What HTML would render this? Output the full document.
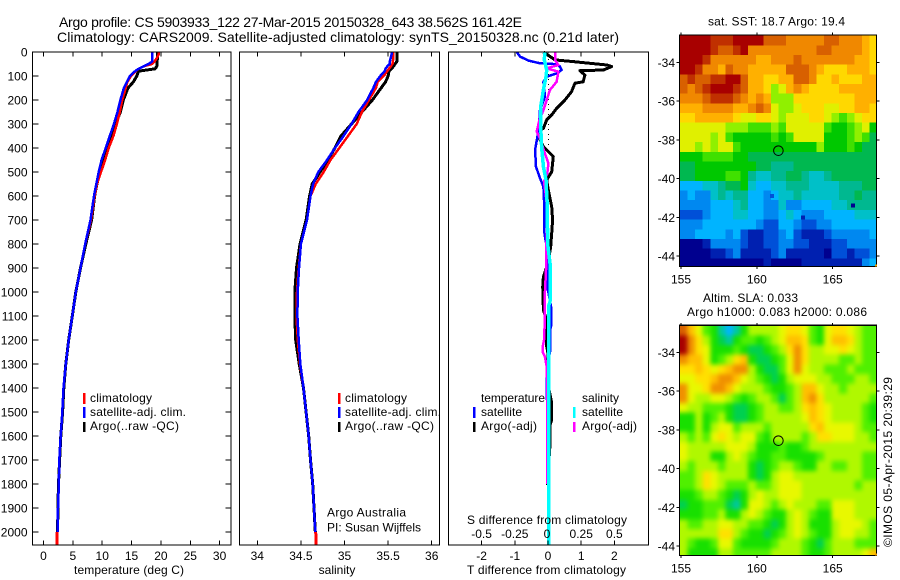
<!DOCTYPE html>
<html lang="en">
<head>
<meta charset="utf-8">
<title>Argo profile 5903933_122</title>
<style>
html,body{margin:0;padding:0;background:#fff;width:900px;height:580px;overflow:hidden}
svg{display:block;font-family:"Liberation Sans",sans-serif;font-size:12px;fill:#000}
svg text{stroke:none}
.title{font-size:14px}
</style>
</head>
<body>
<svg id="chart" xmlns="http://www.w3.org/2000/svg" width="900" height="580" viewBox="0 0 900 580">
  <defs>
    <clipPath id="clip-sst"><rect x="680" y="35" width="197" height="232"/></clipPath>
    <clipPath id="clip-sla"><rect x="680" y="325" width="197" height="231"/></clipPath>
    <filter id="smooth" x="-5%" y="-5%" width="110%" height="110%" color-interpolation-filters="sRGB"><feGaussianBlur stdDeviation="2.4"/></filter>
  </defs>
  <rect x="0" y="0" width="900" height="580" fill="#fff"/>
  <text class="title" x="59" y="27" textLength="463" lengthAdjust="spacing">Argo profile: CS 5903933_122 27-Mar-2015 20150328_643 38.562S 161.42E</text>
  <text class="title" x="57" y="42" textLength="562" lengthAdjust="spacing">Climatology: CARS2009. Satellite-adjusted climatology: synTS_20150328.nc (0.21d later)</text>

  <g id="p1"></g>
  <g id="p2"></g>
  <g id="p3"></g>
  <g id="m1"></g>
  <g id="m2"></g>

  <text x="74" y="574" textLength="110" lengthAdjust="spacing">temperature (deg C)</text>
  <text x="337" y="574" text-anchor="middle">salinity</text>
  <text x="467" y="574" textLength="159" lengthAdjust="spacing">T difference from climatology</text>
  <text x="467" y="524" textLength="160" lengthAdjust="spacing">S difference from climatology</text>

  <text x="90" y="402" textLength="62" lengthAdjust="spacing">climatology</text>
  <text x="90" y="416" textLength="96" lengthAdjust="spacing">satellite-adj. clim.</text>
  <text x="90" y="430" textLength="89" lengthAdjust="spacing">Argo(..raw -QC)</text>
  <rect x="83" y="393" width="2.5" height="11" fill="#f00"/>
  <rect x="83" y="407" width="2.5" height="11" fill="#00f"/>
  <rect x="83" y="422" width="2.5" height="10" fill="#000"/>

  <text x="345" y="402" textLength="62" lengthAdjust="spacing">climatology</text>
  <text x="345" y="416" textLength="96" lengthAdjust="spacing">satellite-adj. clim.</text>
  <text x="345" y="430" textLength="89" lengthAdjust="spacing">Argo(..raw -QC)</text>
  <rect x="338" y="393" width="2.5" height="11" fill="#f00"/>
  <rect x="338" y="407" width="2.5" height="11" fill="#00f"/>
  <rect x="338" y="422" width="2.5" height="10" fill="#000"/>

  <text x="327" y="516.5" textLength="79" lengthAdjust="spacing">Argo Australia</text>
  <text x="327" y="531.5" textLength="94" lengthAdjust="spacing">PI: Susan Wijffels</text>

  <text x="481" y="402" textLength="64" lengthAdjust="spacing">temperature</text>
  <text x="481" y="416" textLength="41" lengthAdjust="spacing">satellite</text>
  <text x="481" y="430" textLength="56" lengthAdjust="spacing">Argo(-adj)</text>
  <text x="582" y="402" textLength="37" lengthAdjust="spacing">salinity</text>
  <text x="582" y="416" textLength="41" lengthAdjust="spacing">satellite</text>
  <text x="582" y="430" textLength="55" lengthAdjust="spacing">Argo(-adj)</text>
  <rect x="473" y="407" width="2.5" height="11" fill="#00f"/>
  <rect x="473" y="422" width="2.5" height="10" fill="#000"/>
  <rect x="573" y="407" width="2.5" height="11" fill="#0ff"/>
  <rect x="573" y="422" width="2.5" height="10" fill="#f0f"/>

  <text x="708" y="25.5" textLength="137" lengthAdjust="spacing">sat. SST: 18.7 Argo: 19.4</text>
  <text x="703" y="302" textLength="95" lengthAdjust="spacing">Altim. SLA: 0.033</text>
  <text x="687" y="316" textLength="180" lengthAdjust="spacing">Argo h1000: 0.083 h2000: 0.086</text>
  <text transform="translate(892 547) rotate(-90)" textLength="170" lengthAdjust="spacing">©IMOS 05-Apr-2015 20:39:29</text>
</svg>
<script>
/* ---------- profile data ---------- */
const depths = [0,10,25,40,50,60,70,80,100,125,150,200,250,300,350,400,450,500,550,600,700,800,900,1000,1100,1200,1300,1400,1500,1600,1700,1800,1900,2000];
const tempClimatology = [19.7,19.6,19.3,18.9,18.5,17.0,16.2,15.7,14.9,14.3,14.0,13.4,13.0,12.5,11.9,11.1,10.5,9.8,9.1,8.7,8.1,7.1,6.3,5.5,4.9,4.3,3.8,3.4,3.2,2.93,2.7,2.6,2.47,2.4];
const tempSatellite = [18.5,18.5,18.5,18.5,17.9,17.0,16.2,15.6,14.7,14.2,13.7,13.1,12.6,12.0,11.3,10.6,9.9,9.4,9.0,8.6,8.0,7.1,6.3,5.5,4.9,4.3,3.8,3.4,3.2,2.93,2.7,2.6,2.47,2.4];
const tempArgo = [19.4,19.4,19.4,19.35,19.35,19.3,19.0,16.2,15.9,15.3,14.4,13.6,13.1,12.3,11.5,10.9,10.2,9.6,9.1,8.7,8.2,7.2,6.3,5.5,4.9,4.3,3.8,3.45,3.25,2.95,2.75,2.55,2.45,2.4];
const climBottomDepths = [2000,2054];
const climBottomTemps = [2.3,2.3];
const climBottomSal = [34.67,34.675];

const salClimatology = [35.56,35.56,35.56,35.555,35.55,35.53,35.51,35.49,35.45,35.38,35.36,35.28,35.2,35.14,35.04,34.94,34.84,34.76,34.67,34.61,34.57,34.5,34.475,34.455,34.45,34.465,34.49,34.53,34.56,34.59,34.61,34.635,34.65,34.665];
const salSatellite = [35.54,35.54,35.53,35.52,35.52,35.49,35.47,35.46,35.41,35.36,35.33,35.26,35.16,35.08,34.99,34.89,34.8,34.7,34.64,34.61,34.57,34.5,34.478,34.463,34.46,34.475,34.493,34.53,34.56,34.59,34.61,34.635,34.65,34.665];
const salArgo = [35.6,35.6,35.6,35.6,35.58,35.56,35.54,35.51,35.5,35.47,35.42,35.32,35.2,35.08,34.96,34.89,34.81,34.72,34.63,34.6,34.56,34.49,34.45,34.43,34.43,34.44,34.48,34.53,34.56,34.59,34.61,34.635,34.65,34.665];

const diffTArgoDepths = [0,33,40,54,61,75,78,96,124,130,165,200,235,262,283,318,332,353,394,436,499,533,575,644,700,755,811,880,936,978,1075,1117,1228,1256,1400,1462,1533,1554,1637,1700,1783,1804];
const diffTArgo = [-0.14,0.21,0.76,1.77,1.92,1.67,0.96,1.11,1.06,0.81,0.71,0.51,0.26,0.11,-0.04,-0.14,-0.29,-0.29,-0.14,0.16,0.11,-0.04,0.01,0.11,0.14,0.11,0.08,0,-0.14,-0.16,-0.14,-0.04,-0.04,0,0.02,0.11,0.11,0.06,0.06,0.03,-0.02,-0.02];
const diffTSatDepths = [0,19,36,47,51,61,75,89,103,124,186,242,311,353,408,478,526,561,644,700,740,770,811,894,978,1060,1144,1160,1250,1311,1367,1450];
const diffTSat = [-0.94,-0.84,-0.59,-0.24,0.26,0.36,0.41,0.26,-0.04,-0.14,-0.09,-0.24,-0.27,-0.32,-0.39,-0.36,-0.24,-0.14,-0.11,-0.11,-0.12,-0.09,-0.04,-0.02,-0.02,0.09,0.09,0.06,0.06,-0.04,-0.04,-0.04];
const diffSSatDepths = [0,33,75,103,158,228,311,394,478,533,644,700,811,880,1040,1060,1250,1311,1367,1450,2000,2054];
const diffSSat = [-0.023,-0.028,-0.01,-0.015,-0.035,-0.055,-0.055,-0.048,-0.035,-0.015,-0.005,-0.005,0,0.015,0.015,0.004,0.004,0.006,0.006,0.007,0.005,0.005];
const diffSArgoDepths = [0,33,54,68,82,124,158,200,242,283,332,360,422,464,505,540,603,686,825,908,1005,1117,1200,1228,1250,1270,1311,1400,1800];
const diffSArgo = [0.053,0.053,0.078,-0.01,0.078,0.065,0.015,-0.01,-0.035,-0.065,-0.085,-0.06,-0.023,0.003,-0.005,-0.03,-0.015,0,-0.015,-0.015,-0.023,-0.023,-0.03,-0.04,-0.04,-0.023,-0.01,-0.005,-0.005];
const zeroRefDepths = [30,390];

/* ---------- tick labels ---------- */
const depthTicks = [0,100,200,300,400,500,600,700,800,900,1000,1100,1200,1300,1400,1500,1600,1700,1800,1900,2000];
const tempTicks = [0,5,10,15,20,25,30];
const salTicks = [34,34.5,35,35.5,36];
const salTickLabels = ['34','34.5','35','35.5','36'];
const diffTTicks = [-2,-1,0,1,2];
const diffTTickLabels = ['-2','-1','0','1','2'];
const diffSTicks = [-0.5,-0.25,0,0.25,0.5];
const diffSTickLabels = ['-0.5','-0.25','0','0.25','0.5'];
const lonTicks = [155,160,165];
const latTicks = [-34,-36,-38,-40,-42,-44];
const latTickLabels = ['-34','-36','-38','-40','-42','-44'];

/* ---------- map data: colour-level per 0.5 degree cell ---------- */
const floatPosition = [161.42,-38.562];
const sstPalette = ['#00008f','#0020b0','#0050d8','#0088f0','#00b4ff','#00c0c8','#00b890','#00b850','#00c800','#40e000','#90f000','#e0f000','#ffd800','#ffb000','#f08800','#d86000','#c03000','#a80000'];
const slaPalette = ['#00008f','#0020b0','#0050d8','#0088f0','#00b4ff','#00c8d0','#00c8a0','#00d050','#18e000','#50f000','#b0f800','#e8f800','#ffe000','#ffc000','#f09000','#d86000','#c03000','#a80000'];
const sstGrid = [
[17,17,17,17,16,16,16,17,17,17,17,15,15,15,14,14,14,14,14,15,15,14,14,14,13,12],
[17,17,17,17,16,15,15,16,17,14,14,14,14,14,14,14,14,14,15,15,14,14,14,14,13,12],
[17,17,17,16,14,14,14,14,14,14,13,13,14,14,14,15,14,14,14,14,14,14,14,13,13,12],
[17,17,16,14,14,13,15,14,14,13,13,13,13,13,15,15,15,14,13,12,12,12,13,13,13,12],
[15,16,15,15,16,16,17,17,15,13,13,12,12,13,13,15,15,14,12,12,13,12,12,12,13,13],
[15,14,15,16,17,17,17,16,15,13,13,12,10,11,13,14,13,12,12,12,12,13,13,13,13,13],
[14,14,14,15,16,16,16,15,14,13,14,13,10,10,10,12,12,12,12,12,12,12,12,13,13,13],
[13,13,13,14,14,14,14,13,13,14,15,14,11,10,10,11,12,12,12,11,11,12,12,13,13,12],
[12,12,13,13,13,13,13,12,11,11,12,12,11,10,11,11,11,12,12,11,10,9,10,11,12,12],
[11,11,11,11,11,11,10,10,10,9,9,9,10,9,11,11,11,11,11,9,8,8,9,10,11,8],
[11,11,11,11,10,11,9,8,8,8,8,8,9,8,9,11,11,11,11,8,8,8,9,10,9,7],
[11,11,10,11,10,11,11,9,8,8,8,8,8,8,8,8,8,8,10,8,8,8,9,8,7,7],
[8,8,8,9,9,9,9,8,8,7,7,7,7,7,7,7,7,7,7,7,7,7,7,7,7,7],
[7,7,8,8,8,8,8,8,8,8,7,7,6,6,6,7,7,7,7,7,7,7,7,7,7,7],
[7,7,8,8,8,8,9,9,8,6,5,5,6,6,7,7,6,5,5,6,7,7,7,7,7,7],
[4,4,4,5,5,6,7,7,8,5,4,4,5,5,6,6,6,5,5,5,5,6,6,6,7,7],
[3,4,3,3,5,6,5,6,6,4,4,3,4,5,5,6,5,5,5,5,5,6,6,7,6,6],
[3,3,3,3,4,4,4,5,6,4,4,3,3,5,3,3,4,4,4,4,5,5,6,6,6,6],
[2,2,2,3,4,4,4,5,5,4,4,3,3,4,5,4,3,3,3,4,4,4,4,5,5,5],
[3,3,3,4,4,4,4,4,4,4,3,2,2,4,4,3,2,2,3,3,4,4,4,4,4,4],
[3,3,4,4,4,4,3,4,2,1,1,2,2,3,4,2,1,1,1,2,3,3,3,3,3,4],
[0,0,0,1,3,3,3,3,2,1,1,2,2,3,3,2,2,1,1,1,2,2,3,3,3,3],
[0,0,0,0,1,1,2,3,1,1,1,1,2,3,1,1,1,1,1,0,2,2,1,2,2,3],
[0,0,0,0,0,0,0,0,0,0,0,1,0,0,0,0,1,1,1,1,1,1,1,1,3,4]
];
const sstSpeckLons = [166.35,161.0,163.05];
const sstSpeckLats = [-41.4,-40.9,-42.0];
const sstSpeckLevels = [0,2,1];
const slaGrid = [
[15,13,11,9,8,6,4,6,8,10,10,10,10,11,12,12,11,9,8,11,12,12,11,10,9,9],
[17,14,12,10,8,7,6,8,9,9,8,9,10,11,13,13,12,9,8,11,13,13,12,10,9,9],
[17,14,12,11,8,8,8,9,8,7,7,8,9,10,12,14,12,10,10,11,11,12,11,10,9,9],
[14,13,13,11,8,9,10,12,13,8,7,7,8,9,11,14,12,10,10,10,10,9,9,10,9,9],
[12,12,13,12,11,12,13,14,14,10,8,7,7,9,11,14,11,10,10,9,9,9,10,9,9,9],
[11,11,12,12,13,14,14,13,11,10,9,8,7,8,10,11,11,11,10,10,9,9,9,10,10,9],
[14,11,11,12,14,14,13,11,10,10,10,9,8,8,9,10,13,13,11,10,10,9,10,10,10,10],
[14,11,10,10,11,11,10,9,8,9,10,10,9,7,9,10,13,14,12,10,10,10,10,10,10,9],
[11,10,10,9,9,9,8,7,7,8,9,10,10,9,9,10,12,13,12,11,10,10,10,10,9,8],
[8,8,10,8,9,10,8,7,7,8,9,10,10,10,10,10,11,13,12,11,10,10,10,10,9,8],
[8,8,10,8,10,11,11,9,10,10,10,9,10,10,10,10,10,12,13,11,11,11,11,10,9,9],
[10,9,10,9,11,12,11,10,11,11,9,8,10,10,10,10,9,10,12,12,11,11,11,10,10,9],
[11,10,10,10,10,10,11,11,11,10,8,8,8,9,8,8,9,10,10,10,10,10,10,10,10,10],
[11,10,10,10,8,8,10,11,10,9,8,8,9,9,8,8,8,8,9,10,10,10,10,10,9,9],
[10,9,10,10,10,9,10,10,10,8,7,8,9,10,10,9,8,8,10,10,9,9,10,10,9,9],
[9,9,10,12,11,10,10,10,10,8,7,8,10,11,11,10,10,10,10,10,10,10,10,10,9,9],
[9,9,10,12,11,10,9,9,9,10,9,9,10,11,11,11,10,10,10,10,10,10,10,9,10,10],
[8,8,9,10,10,9,8,7,8,10,11,10,10,11,11,11,10,10,10,10,10,10,10,10,10,10],
[7,8,8,9,9,9,7,6,8,11,11,10,9,10,11,10,10,10,9,9,11,11,11,10,10,10],
[8,8,8,9,9,10,8,8,10,11,10,9,8,8,10,11,10,9,8,8,11,11,11,10,10,10],
[10,9,9,10,10,11,11,10,10,9,9,8,7,8,10,11,10,8,8,8,10,11,11,11,10,9],
[10,10,10,10,10,12,12,10,9,8,8,7,8,9,10,11,10,9,8,8,10,11,11,10,10,9],
[10,9,8,8,9,11,11,9,8,8,8,8,9,10,10,10,9,8,7,9,10,10,10,9,9,9],
[10,8,8,8,8,10,10,9,9,9,9,9,10,10,10,10,9,8,8,9,10,10,10,10,11,13]
];

/* ---------- axis functions ---------- */
const NS = 'http://www.w3.org/2000/svg';
const yDepth = d => 52 + d * 0.24;
const xTemp = t => 43.5 + t * 5.87;
const xSal = s => 257.3 + (s - 34) * 87.2;
const xDiffT = t => 548 + t * 33.2;
const xDiffS = s => 548 + s * 132.8;
const xLon = lon => 681 + (lon - 155) * 15.17;
const yLat1 = lat => 62.3 + (-34 - lat) * 19.37;
const yLat2 = lat => 352.3 + (-34 - lat) * 19.37;
const GRID_LON0 = 154.93, GRID_LAT0 = -32.62, GRID_STEP = 0.5;

function svgEl(parent, tag, props, txt) {
  const el = document.createElementNS(NS, tag);
  for (const k in props) el.setAttribute(k, props[k]);
  if (txt !== undefined) el.textContent = txt;
  parent.appendChild(el);
  return el;
}
function profile(parent, name, xs, ds, xScale, color, width) {
  const pts = xs.map((v, i) => xScale(v).toFixed(1) + ',' + yDepth(ds[i]).toFixed(1)).join(' ');
  const el = svgEl(parent, 'polyline', {points: pts, fill: 'none', stroke: color, 'stroke-width': width, 'stroke-linejoin': 'round', 'shape-rendering': 'crispEdges'});
  
  
  return el;
}
function frame(parent, name, x, y, w, h) {
  const el = svgEl(parent, 'rect', {x: x, y: y, width: w, height: h, fill: 'none', stroke: '#000', 'stroke-width': 1.2, 'shape-rendering': 'crispEdges'});
  
  
}
function tick(parent, name, x1, y1, x2, y2) {
  const el = svgEl(parent, 'line', {x1: x1, y1: y1, x2: x2, y2: y2, stroke: '#000', 'stroke-width': 1, 'shape-rendering': 'crispEdges'});
  
  
}
function label(parent, name, x, y, anchor, txt) {
  const el = svgEl(parent, 'text', {x: x, y: y, 'text-anchor': anchor}, txt);
  
  
}

/* ---------- temperature panel ---------- */
const p1 = document.getElementById('p1');
profile(p1, 'temp-argo-line', tempArgo, depths, xTemp, '#000', 3);
profile(p1, 'temp-climatology-line', tempClimatology, depths, xTemp, '#f00', 2.5);
profile(p1, 'temp-climatology-bottom-line', climBottomTemps, climBottomDepths, xTemp, '#f00', 3);
profile(p1, 'temp-satellite-line', tempSatellite, depths, xTemp, '#00f', 2.5);
frame(p1, 'temperature-plot-frame', 32.5, 52, 198.5, 493);
depthTicks.forEach(d => {
  tick(p1, 'depth-tick-left', 32.5, yDepth(d), 38.5, yDepth(d));
  tick(p1, 'depth-tick-right', 225.5, yDepth(d), 231, yDepth(d));
  label(p1, 'depth-tick-label', 27.5, yDepth(d) + 4.5, 'end', String(d));
});
tempTicks.forEach(t => {
  tick(p1, 'temp-tick-top', xTemp(t), 52, xTemp(t), 56.5);
  tick(p1, 'temp-tick-bottom', xTemp(t), 540.5, xTemp(t), 545);
  label(p1, 'temp-tick-label', xTemp(t), 560, 'middle', String(t));
});

/* ---------- salinity panel ---------- */
const p2 = document.getElementById('p2');
profile(p2, 'sal-argo-line', salArgo, depths, xSal, '#000', 3);
profile(p2, 'sal-climatology-line', salClimatology, depths, xSal, '#f00', 2.5);
profile(p2, 'sal-climatology-bottom-line', climBottomSal, climBottomDepths, xSal, '#f00', 3);
profile(p2, 'sal-satellite-line', salSatellite, depths, xSal, '#00f', 2.5);
frame(p2, 'salinity-plot-frame', 239.5, 52, 200, 493);
salTicks.forEach((s, i) => {
  tick(p2, 'sal-tick-top', xSal(s), 52, xSal(s), 56.5);
  tick(p2, 'sal-tick-bottom', xSal(s), 540.5, xSal(s), 545);
  label(p2, 'sal-tick-label', xSal(s), 560, 'middle', salTickLabels[i]);
});

/* ---------- difference panel ---------- */
const p3 = document.getElementById('p3');
const zeroRef = svgEl(p3, 'line', {x1: Math.floor(xDiffT(0)) + 0.5, x2: Math.floor(xDiffT(0)) + 0.5, y1: yDepth(zeroRefDepths[0]), y2: yDepth(zeroRefDepths[1]), stroke: '#000', 'stroke-width': 1, 'stroke-dasharray': '1 4', 'shape-rendering': 'crispEdges'});


profile(p3, 'diff-t-argo-line', diffTArgo, diffTArgoDepths, xDiffT, '#000', 3);
profile(p3, 'diff-t-satellite-line', diffTSat, diffTSatDepths, xDiffT, '#00f', 2.5);
profile(p3, 'diff-s-argo-line', diffSArgo, diffSArgoDepths, xDiffS, '#f0f', 2.5);
profile(p3, 'diff-s-satellite-line', diffSSat, diffSSatDepths, xDiffS, '#0ff', 3.5);
frame(p3, 'difference-plot-frame', 448.5, 52, 200, 493);
diffTTicks.forEach((t, i) => {
  tick(p3, 'diff-t-tick-top', xDiffT(t), 52, xDiffT(t), 56.5);
  tick(p3, 'diff-t-tick-bottom', xDiffT(t), 540.5, xDiffT(t), 545);
  label(p3, 'diff-t-tick-label', xDiffT(t), 560, 'middle', diffTTickLabels[i]);
});
diffSTicks.forEach((s, i) => {
  label(p3, 'diff-s-tick-label', xDiffS(s) - (s === 0 ? 1 : 0), 538, 'middle', diffSTickLabels[i]);
});

/* ---------- maps ---------- */
function drawMap(groupId, grid, palette, yLat, clipId, top, bottom, smooth, prefix) {
  const g = document.getElementById(groupId);
  const clip = svgEl(g, 'g', {'clip-path': 'url(#' + clipId + ')'});
  
  
  const inner = svgEl(clip, 'g', smooth ? {filter: 'url(#smooth)'} : {});
  
  
  grid.forEach((row, r) => row.forEach((level, c) => {
    const x0 = xLon(GRID_LON0 + c * GRID_STEP), x1 = xLon(GRID_LON0 + (c + 1) * GRID_STEP);
    const y0 = yLat(GRID_LAT0 - r * GRID_STEP), y1 = yLat(GRID_LAT0 - (r + 1) * GRID_STEP);
    const pad = smooth ? 12 : 0;
    const xa = c === 0 ? x0 - pad : x0, xb = c === row.length - 1 ? x1 + pad : x1;
    const ya = r === 0 ? y0 - pad : y0, yb = r === grid.length - 1 ? y1 + pad : y1;
    const cell = svgEl(inner, 'rect', {x: xa, y: ya, width: xb - xa + 0.5, height: yb - ya + 0.5, fill: palette[level], 'shape-rendering': 'crispEdges'});
    
    
  }));
  if (groupId === 'm1') {
    sstSpeckLevels.forEach((level, i) => {
      const speck = svgEl(inner, 'rect', {x: xLon(sstSpeckLons[i]) - 2, y: yLat(sstSpeckLats[i]) - 2, width: 4, height: 4, fill: palette[level], 'shape-rendering': 'crispEdges'});
      
      
    });
  }
  frame(g, prefix + '-map-frame', 679.5, top, 197, bottom - top);
  const corner = svgEl(g, 'rect', {x: 875, y: bottom - 2, width: 2, height: 2, fill: '#f0a000'});
  
  
  lonTicks.forEach(lon => {
    tick(g, prefix + '-lon-tick-top', xLon(lon), top - 2.5, xLon(lon), top);
    tick(g, prefix + '-lon-tick-bottom', xLon(lon), bottom, xLon(lon), bottom + 2.5);
    label(g, prefix + '-lon-tick-label', xLon(lon), bottom + 17, 'middle', String(lon));
  });
  latTicks.forEach((lat, i) => {
    tick(g, prefix + '-lat-tick-left', 676.5, yLat(lat), 679.5, yLat(lat));
    tick(g, prefix + '-lat-tick-right', 876.5, yLat(lat), 879.5, yLat(lat));
    label(g, prefix + '-lat-tick-label', 675, yLat(lat) + 4.5, 'end', latTickLabels[i]);
  });
  const ring = svgEl(g, 'circle', {cx: xLon(floatPosition[0]), cy: yLat(floatPosition[1]), r: 4.8, fill: 'none', stroke: '#000', 'stroke-width': 1});
  
  
}
drawMap('m1', sstGrid, sstPalette, yLat1, 'clip-sst', 35, 266.5, false, 'sst');
drawMap('m2', slaGrid, slaPalette, yLat2, 'clip-sla', 325.3, 555.5, true, 'sla');
</script>
</body>
</html>
